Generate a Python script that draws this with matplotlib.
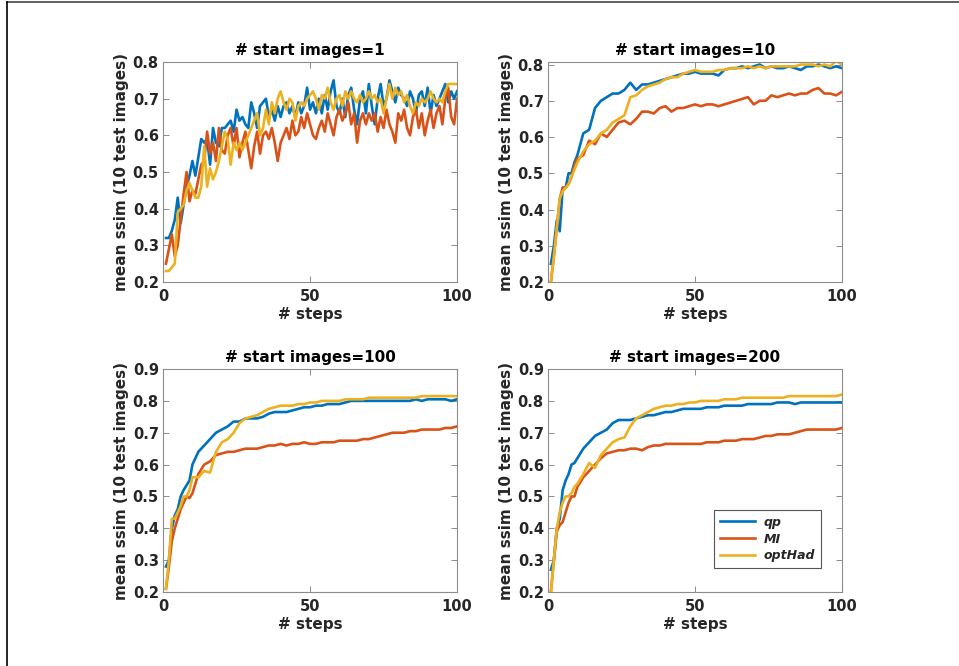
import matplotlib
matplotlib.use('Agg')
import matplotlib.pyplot as plt
from matplotlib.lines import Line2D

plt.rcParams['font.family'] = ['DejaVu Sans']
plt.rcParams['font.weight'] = 'bold'

# series names and colours (MATLAB defaults)
labels = ['qp', 'MI', 'optHad']
colors = ['#0072BD', '#D95319', '#EDB120']
titles = ['# start images=1', '# start images=10',
          '# start images=100', '# start images=200']

# ---- start images = 1 (every step) ----
steps_full = list(range(1, 101))
qp_1 = [0.32, 0.32, 0.34, 0.37, 0.43, 0.36, 0.41, 0.46, 0.49, 0.53,
        0.49, 0.54, 0.59, 0.58, 0.59, 0.52, 0.62, 0.58, 0.57, 0.62,
        0.62, 0.63, 0.64, 0.61, 0.67, 0.64, 0.65, 0.63, 0.62, 0.69,
        0.66, 0.62, 0.68, 0.69, 0.70, 0.65, 0.67, 0.64, 0.68, 0.65,
        0.68, 0.69, 0.66, 0.68, 0.65, 0.69, 0.66, 0.68, 0.73, 0.67,
        0.69, 0.66, 0.70, 0.66, 0.71, 0.67, 0.72, 0.75, 0.68, 0.66,
        0.70, 0.65, 0.71, 0.73, 0.67, 0.63, 0.70, 0.72, 0.66, 0.74,
        0.68, 0.63, 0.70, 0.74, 0.68, 0.70, 0.75, 0.72, 0.69, 0.73,
        0.71, 0.70, 0.68, 0.72, 0.70, 0.66, 0.71, 0.72, 0.68, 0.73,
        0.66, 0.71, 0.68, 0.70, 0.72, 0.74, 0.69, 0.72, 0.70, 0.72]
mi_1 = [0.25, 0.29, 0.33, 0.27, 0.30, 0.37, 0.44, 0.50, 0.42, 0.45,
        0.44, 0.48, 0.52, 0.53, 0.61, 0.55, 0.58, 0.53, 0.62, 0.56,
        0.55, 0.60, 0.62, 0.57, 0.62, 0.54, 0.58, 0.61, 0.56, 0.51,
        0.57, 0.61, 0.55, 0.60, 0.61, 0.59, 0.62, 0.58, 0.53, 0.58,
        0.60, 0.62, 0.59, 0.64, 0.60, 0.61, 0.65, 0.62, 0.66, 0.63,
        0.60, 0.59, 0.62, 0.64, 0.61, 0.66, 0.63, 0.60, 0.65, 0.67,
        0.64, 0.66, 0.69, 0.63, 0.66, 0.58, 0.64, 0.66, 0.63, 0.66,
        0.64, 0.66, 0.61, 0.65, 0.62, 0.67, 0.63, 0.61, 0.58, 0.66,
        0.64, 0.67, 0.62, 0.60, 0.65, 0.67, 0.62, 0.66, 0.60, 0.64,
        0.67, 0.62, 0.66, 0.68, 0.63, 0.70, 0.73, 0.65, 0.63, 0.70]
had_1 = [0.23, 0.23, 0.24, 0.25, 0.39, 0.40, 0.41, 0.45, 0.47, 0.45,
         0.43, 0.43, 0.46, 0.57, 0.46, 0.51, 0.48, 0.50, 0.53, 0.57,
         0.61, 0.59, 0.52, 0.58, 0.56, 0.58, 0.56, 0.58, 0.60, 0.62,
         0.64, 0.66, 0.60, 0.62, 0.67, 0.63, 0.69, 0.66, 0.70, 0.72,
         0.69, 0.67, 0.70, 0.69, 0.64, 0.68, 0.69, 0.68, 0.70, 0.71,
         0.72, 0.70, 0.67, 0.71, 0.70, 0.73, 0.69, 0.67, 0.70, 0.71,
         0.68, 0.72, 0.70, 0.72, 0.70, 0.69, 0.71, 0.69, 0.70, 0.72,
         0.70, 0.71, 0.69, 0.70, 0.66, 0.70, 0.74, 0.70, 0.73, 0.71,
         0.72, 0.69, 0.71, 0.68, 0.66, 0.69, 0.68, 0.70, 0.69, 0.70,
         0.72, 0.70, 0.69, 0.70, 0.69, 0.72, 0.74, 0.74, 0.74, 0.74]

# ---- other runs: steps 1..10 then every second step ----
steps_sparse = list(range(1, 11)) + list(range(12, 101, 2))

qp_10 = [0.25, 0.30, 0.37, 0.34, 0.46, 0.46, 0.50, 0.50, 0.53, 0.55,
         0.61, 0.62, 0.68, 0.70, 0.71, 0.72, 0.72, 0.73, 0.75, 0.73,
         0.745, 0.745, 0.75, 0.755, 0.76, 0.765, 0.77, 0.775, 0.775, 0.78,
         0.775, 0.775, 0.775, 0.77, 0.785, 0.79, 0.79, 0.795, 0.79, 0.795,
         0.80, 0.79, 0.795, 0.79, 0.79, 0.795, 0.79, 0.785, 0.795, 0.795,
         0.80, 0.795, 0.79, 0.795, 0.79]
mi_10 = [0.20, 0.27, 0.35, 0.43, 0.46, 0.46, 0.47, 0.49, 0.52, 0.54,
         0.55, 0.59, 0.58, 0.61, 0.60, 0.62, 0.64, 0.645, 0.635, 0.65,
         0.67, 0.67, 0.665, 0.68, 0.685, 0.67, 0.68, 0.68, 0.685, 0.69,
         0.685, 0.69, 0.69, 0.685, 0.69, 0.695, 0.70, 0.705, 0.71, 0.69,
         0.70, 0.70, 0.715, 0.71, 0.715, 0.72, 0.715, 0.72, 0.72, 0.73,
         0.735, 0.72, 0.72, 0.715, 0.725]
had_10 = [0.20, 0.27, 0.35, 0.43, 0.45, 0.46, 0.47, 0.49, 0.51, 0.53,
          0.56, 0.58, 0.59, 0.61, 0.62, 0.64, 0.65, 0.66, 0.71, 0.715,
          0.73, 0.74, 0.745, 0.75, 0.76, 0.765, 0.765, 0.775, 0.78, 0.785,
          0.78, 0.78, 0.78, 0.785, 0.785, 0.79, 0.79, 0.79, 0.795, 0.79,
          0.795, 0.79, 0.795, 0.795, 0.795, 0.795, 0.795, 0.80, 0.80, 0.80,
          0.795, 0.80, 0.795, 0.81, 0.80]

qp_100 = [0.28, 0.30, 0.40, 0.44, 0.46, 0.50, 0.52, 0.535, 0.55, 0.60,
          0.64, 0.66, 0.68, 0.70, 0.71, 0.72, 0.735, 0.735, 0.745, 0.745,
          0.745, 0.75, 0.76, 0.765, 0.765, 0.765, 0.77, 0.775, 0.78, 0.78,
          0.785, 0.785, 0.79, 0.79, 0.79, 0.795, 0.80, 0.80, 0.80, 0.80,
          0.80, 0.80, 0.80, 0.80, 0.80, 0.80, 0.80, 0.805, 0.80, 0.805,
          0.805, 0.805, 0.805, 0.80, 0.805]
mi_100 = [0.21, 0.28, 0.36, 0.40, 0.43, 0.46, 0.48, 0.50, 0.495, 0.51,
          0.57, 0.60, 0.61, 0.63, 0.635, 0.64, 0.64, 0.645, 0.65, 0.65,
          0.65, 0.655, 0.66, 0.66, 0.665, 0.66, 0.665, 0.665, 0.67, 0.665,
          0.665, 0.67, 0.67, 0.67, 0.675, 0.675, 0.675, 0.675, 0.68, 0.68,
          0.685, 0.69, 0.695, 0.70, 0.70, 0.70, 0.705, 0.705, 0.71, 0.71,
          0.71, 0.71, 0.715, 0.715, 0.72]
had_100 = [0.21, 0.30, 0.43, 0.43, 0.45, 0.47, 0.50, 0.50, 0.52, 0.56,
           0.56, 0.58, 0.575, 0.64, 0.67, 0.68, 0.70, 0.73, 0.745, 0.75,
           0.755, 0.765, 0.775, 0.78, 0.785, 0.785, 0.785, 0.79, 0.79, 0.795,
           0.795, 0.80, 0.80, 0.80, 0.80, 0.805, 0.805, 0.805, 0.805, 0.81,
           0.81, 0.81, 0.81, 0.81, 0.81, 0.81, 0.81, 0.81, 0.815, 0.815,
           0.815, 0.815, 0.815, 0.815, 0.815]

qp_200 = [0.27, 0.30, 0.40, 0.43, 0.52, 0.55, 0.57, 0.60, 0.605, 0.62,
          0.65, 0.67, 0.69, 0.70, 0.71, 0.73, 0.74, 0.74, 0.74, 0.745,
          0.75, 0.755, 0.755, 0.76, 0.765, 0.765, 0.77, 0.775, 0.775, 0.775,
          0.775, 0.78, 0.78, 0.78, 0.785, 0.785, 0.785, 0.785, 0.79, 0.79,
          0.79, 0.79, 0.79, 0.795, 0.795, 0.795, 0.79, 0.795, 0.795, 0.795,
          0.795, 0.795, 0.795, 0.795, 0.795]
mi_200 = [0.20, 0.30, 0.39, 0.41, 0.42, 0.45, 0.48, 0.50, 0.50, 0.53,
          0.56, 0.58, 0.60, 0.62, 0.635, 0.64, 0.645, 0.645, 0.65, 0.65,
          0.645, 0.655, 0.66, 0.66, 0.665, 0.665, 0.665, 0.665, 0.665, 0.665,
          0.665, 0.67, 0.67, 0.67, 0.675, 0.675, 0.675, 0.68, 0.68, 0.68,
          0.685, 0.69, 0.69, 0.695, 0.695, 0.695, 0.70, 0.705, 0.71, 0.71,
          0.71, 0.71, 0.71, 0.71, 0.715]
had_200 = [0.20, 0.30, 0.40, 0.45, 0.48, 0.50, 0.50, 0.51, 0.53, 0.54,
           0.57, 0.605, 0.59, 0.63, 0.65, 0.67, 0.68, 0.685, 0.72, 0.745,
           0.755, 0.765, 0.775, 0.78, 0.785, 0.785, 0.79, 0.79, 0.795, 0.795,
           0.80, 0.80, 0.80, 0.80, 0.805, 0.805, 0.805, 0.81, 0.81, 0.81,
           0.81, 0.81, 0.81, 0.81, 0.81, 0.815, 0.815, 0.815, 0.815, 0.815,
           0.815, 0.815, 0.815, 0.815, 0.82]

panels = [
    (steps_full, [qp_1, mi_1, had_1], (0.2, 0.8)),
    (steps_sparse, [qp_10, mi_10, had_10], (0.2, 0.807)),
    (steps_sparse, [qp_100, mi_100, had_100], (0.2, 0.9)),
    (steps_sparse, [qp_200, mi_200, had_200], (0.2, 0.9)),
]

positions = [
    [0.170, 0.5766, 0.3066, 0.3303],
    [0.5714, 0.5766, 0.3066, 0.3303],
    [0.170, 0.1111, 0.3066, 0.3348],
    [0.5714, 0.1111, 0.3066, 0.3348],
]

txt = '#262626'
edge = '#8c8c8c'

fig = plt.figure(figsize=(9.59, 6.66), dpi=100)

for i, (x, ys, ylim) in enumerate(panels):
    ax = fig.add_axes(positions[i])
    for y, c, lab in zip(ys, colors, labels):
        ax.plot(x, y, color=c, lw=1.9, label=lab)
    ax.set_xlim(0, 100)
    ax.set_ylim(*ylim)
    ax.set_xticks([0, 50, 100])
    top = 0.9 if ylim[1] > 0.85 else 0.8
    yt = [round(0.2 + 0.1 * k, 1) for k in range(int(round((top - 0.2) / 0.1)) + 1)]
    ax.set_yticks(yt)
    ax.set_yticklabels(['%.1f' % v for v in yt])
    ax.tick_params(direction='in', length=4, width=0.7, color=edge,
                   labelcolor=txt, labelsize=10.5, top=True, right=True)
    ax.tick_params(axis='x', pad=5)
    ax.tick_params(axis='y', pad=3)
    for s in ax.spines.values():
        s.set_color(edge)
        s.set_linewidth(0.8)
    ax.set_title(titles[i], fontsize=11, fontweight='bold', color='black', pad=5)
    ax.set_xlabel('# steps', fontsize=11, fontweight='bold', color=txt, labelpad=2)
    ax.set_ylabel('mean ssim (10 test images)', fontsize=11, fontweight='bold',
                  color=txt, labelpad=3)
    if i == 3:
        leg = ax.legend(loc='lower left', bbox_to_anchor=(0.565, 0.108),
                        borderaxespad=0, fancybox=False, framealpha=1,
                        handlelength=2.8, handletextpad=0.7, labelspacing=0.3,
                        borderpad=0.45,
                        prop={'size': 9, 'weight': 'bold', 'style': 'italic'})
        leg.get_frame().set_edgecolor('#555555')
        leg.get_frame().set_linewidth(0.8)
        for t in leg.get_texts():
            t.set_color(txt)

# thin frame lines at the top and left edge of the image
fig.add_artist(Line2D([7 / 959, 1], [1 - 2 / 666, 1 - 2 / 666],
                      transform=fig.transFigure, color='#444444', lw=1.2))
fig.add_artist(Line2D([7 / 959, 7 / 959], [0, 1 - 2 / 666],
                      transform=fig.transFigure, color='black', lw=1.2))

fig.savefig('out.png', dpi=100, facecolor='white')
